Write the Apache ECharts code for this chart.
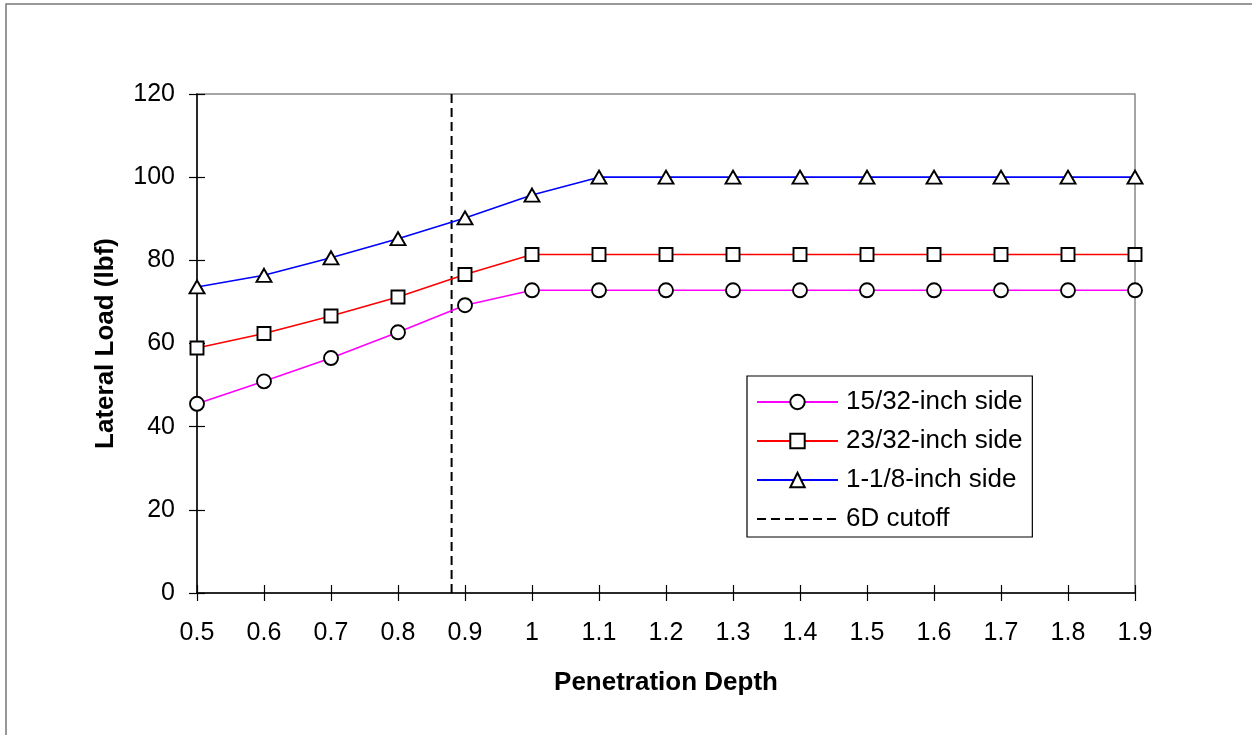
<!DOCTYPE html>
<html>
<head>
<meta charset="utf-8">
<script src="https://cdn.jsdelivr.net/npm/echarts@6/dist/echarts.min.js"></script>
<style>
html,body{margin:0;padding:0;background:#fff;}
#c{width:1252px;height:735px;}
</style>
</head>
<body>
<div id="c"></div>
<script>
var depths = [0.5,0.6,0.7,0.8,0.9,1.0,1.1,1.2,1.3,1.4,1.5,1.6,1.7,1.8,1.9];
var side15_32 = [45.5,50.9,56.5,62.7,69.2,72.8,72.8,72.8,72.8,72.8,72.8,72.8,72.8,72.8,72.8];
var side23_32 = [58.9,62.4,66.6,71.2,76.6,81.4,81.4,81.4,81.4,81.4,81.4,81.4,81.4,81.4,81.4];
var side1_1_8 = [73.6,76.4,80.6,85.2,90.2,95.7,100,100,100,100,100,100,100,100,100];
var cutoffX = 0.88;
var cutoffY = [0,120];
var seriesNames = ['15/32-inch side','23/32-inch side','1-1/8-inch side','6D cutoff'];

function pairs(xs, ys){ return xs.map(function(x,i){ return [x, ys[i]]; }); }

var font = 'Liberation Sans, Arial, sans-serif';
var chart = echarts.init(document.getElementById('c'));

function xAx(extra){
  var a = {
    type:'value', min:0.5, max:1.9, interval:0.1,
    axisLine:{show:true,onZero:false,lineStyle:{color:'#000',width:1.5}},
    axisTick:{show:true,length:8,lineStyle:{color:'#000',width:1.2}},
    axisLabel:{show:true,margin:28,color:'#000',fontSize:25,fontFamily:font,
      formatter:function(v){ return String(Math.round(v*10)/10); }},
    splitLine:{show:false}
  };
  return Object.assign(a, extra||{});
}
function yAx(extra){
  var a = {
    type:'value', min:0, max:120, interval:20,
    axisLine:{show:true,lineStyle:{color:'#000',width:1.5}},
    axisTick:{show:true,length:8,lineStyle:{color:'#000',width:1.2}},
    axisLabel:{show:true,margin:22,color:'#000',fontSize:25,fontFamily:font},
    splitLine:{show:false}
  };
  return Object.assign(a, extra||{});
}

var symBase = {color:'#fff',borderColor:'#000',borderWidth:1.9};

chart.setOption({
  animation:false,
  backgroundColor:'#fff',
  graphic:[{type:'rect',shape:{x:6,y:4,width:1300,height:800},
    style:{fill:'none',stroke:'#777',lineWidth:1.5},silent:true}],
  grid:{left:197,top:94,width:938,height:499,show:true,borderColor:'#888',borderWidth:1.5,backgroundColor:'transparent'},
  xAxis:[
    xAx({name:'Penetration Depth',nameLocation:'middle',nameGap:77,
      nameTextStyle:{color:'#000',fontSize:26,fontWeight:'bold',fontFamily:font}}),
    xAx({position:'bottom',axisLine:{show:false,onZero:false},axisLabel:{show:false},
      axisTick:{show:true,inside:true,length:8,lineStyle:{color:'#000',width:1.2}}})
  ],
  yAxis:[
    yAx({name:'Lateral Load (lbf)',nameLocation:'middle',nameGap:78,
      nameTextStyle:{color:'#000',fontSize:26,fontWeight:'bold',fontFamily:font}}),
    yAx({position:'left',axisLine:{show:false},axisLabel:{show:false},
      axisTick:{show:true,inside:true,length:8,lineStyle:{color:'#000',width:1.2}}})
  ],
  legend:{
    left:747, top:376, orient:'vertical',
    data:[seriesNames[0],seriesNames[1],seriesNames[2],
      {name:seriesNames[3],itemStyle:{opacity:0}}],
    itemWidth:81, itemHeight:18, itemGap:13,
    padding:[13,10,5,9],
    borderColor:'#000', borderWidth:1.2, backgroundColor:'#fff',
    textStyle:{color:'#000',fontSize:26,fontFamily:font,padding:[0,0,0,3]}
  },
  series:[
    {name:seriesNames[0],type:'line',data:pairs(depths,side15_32),symbol:'circle',symbolSize:14,
      lineStyle:{color:'#FF00FF',width:1.6},itemStyle:symBase,z:3},
    {name:seriesNames[1],type:'line',data:pairs(depths,side23_32),symbol:'rect',symbolSize:13,
      lineStyle:{color:'#FF0000',width:1.6},itemStyle:symBase,z:3},
    {name:seriesNames[2],type:'line',data:pairs(depths,side1_1_8),symbol:'triangle',symbolSize:[15,13],
      lineStyle:{color:'#0000FF',width:1.6},itemStyle:symBase,z:3},
    {name:seriesNames[3],type:'line',data:[[cutoffX,cutoffY[0]],[cutoffX,cutoffY[1]]],symbol:'none',
      lineStyle:{color:'#000',width:2,type:[9,5]},itemStyle:{color:'#000'},z:2}
  ]
});
</script>
</body>
</html>
